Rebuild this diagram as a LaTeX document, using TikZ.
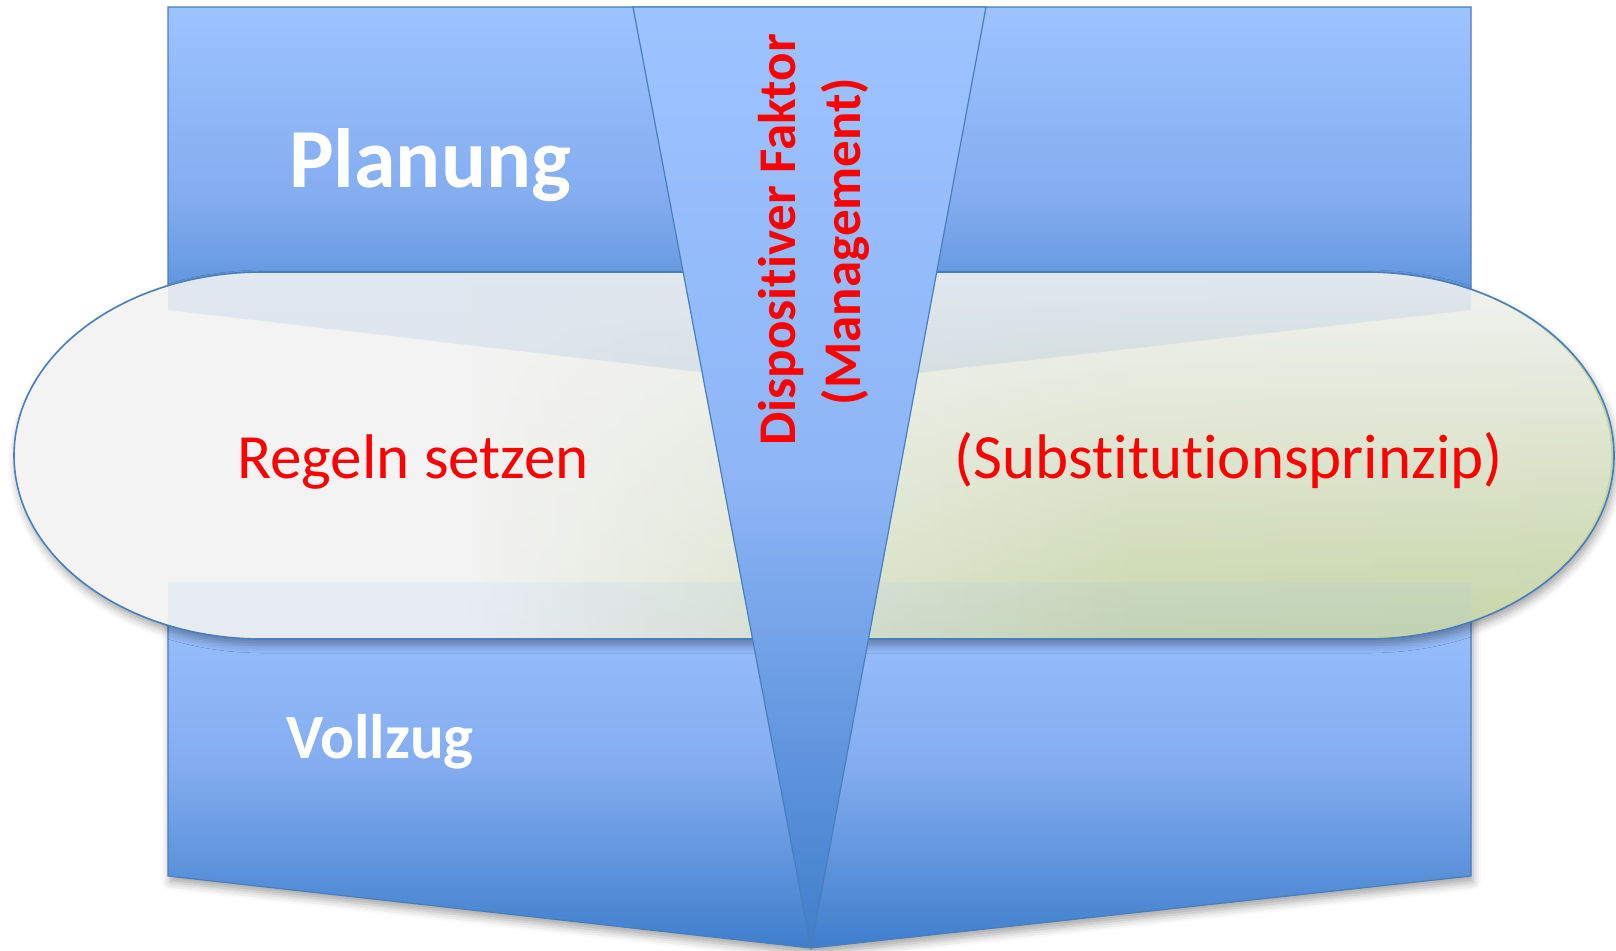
\documentclass[tikz,border=0pt]{standalone}
\usepackage{fontspec}
\setmainfont[Ligatures=NoCommon]{Carlito}
\usetikzlibrary{shadows.blur,fadings}

\definecolor{blueTop}{HTML}{9DC3FF}
\definecolor{blueMid}{HTML}{84ADF0}
\definecolor{blueBot}{HTML}{3F7ECC}
\definecolor{edgeBlue}{HTML}{4A7EBB}
\definecolor{capLight}{HTML}{F3F3F3}
\definecolor{capMid}{HTML}{E1E7D5}
\definecolor{capGreen}{HTML}{C9D7AB}
\definecolor{capDeep}{HTML}{C1D29E}
\definecolor{textRed}{HTML}{FF0000}

\pgfdeclarehorizontalshading{capshade}{100bp}{%
  color(0bp)=(capLight); color(39bp)=(capLight); color(47bp)=(capMid); color(60bp)=(capGreen); color(100bp)=(capDeep)}
\tikzfading[name=capfade, top color=transparent!0, bottom color=transparent!100]

% the rounded band across the middle
\newcommand\bandpath{(262,272) -- (1366,272) arc[start angle=-90, end angle=90, x radius=248, y radius=183.5]
    -- (262,639) arc[start angle=90, end angle=270, x radius=248, y radius=183.5] -- cycle}

\begin{document}
\begin{tikzpicture}[x=0.5pt, y=-0.5pt,
    panel/.style={draw=edgeBlue, line width=0.6pt, top color=blueTop, bottom color=blueBot, middle color=blueMid},
    softshadow/.style={blur shadow={shadow xshift=1pt, shadow yshift=-3pt, shadow blur radius=4pt, shadow opacity=35}},
    bigword/.style={text=white, inner sep=0pt, anchor=base, font=\bfseries\fontsize{#1}{#1}\selectfont},
    redword/.style={text=textRed, inner sep=0pt, anchor=base, font=\fontsize{31.5}{36}\selectfont},
    upword/.style={text=textRed, inner sep=0pt, anchor=base, rotate=90, font=\bfseries\fontsize{26.5}{30}\selectfont}]
  \useasboundingbox (0,0) rectangle (1616,950);

  % Planung and Vollzug
  \path[panel] (168,7) -- (1471,7) -- (1471,310) -- (811,385) -- (168,310) -- cycle;
  \path[panel, softshadow] (168,582) -- (1471,582) -- (1471,876) -- (811,948) -- (168,876) -- cycle;

  % rules band
  \path[shade, shading=capshade, softshadow] \bandpath;
  \path[fill=capLight, path fading=capfade] \bandpath;
  \begin{scope}
    \clip \bandpath;
    \path[top color=blueTop, bottom color=blueBot, middle color=blueMid, fill opacity=0.12]
      (168,7) -- (1471,7) -- (1471,310) -- (811,385) -- (168,310) -- cycle;
    \path[top color=blueTop, bottom color=blueBot, middle color=blueMid, fill opacity=0.12]
      (168,582) -- (1471,582) -- (1471,876) -- (811,948) -- (168,876) -- cycle;
  \end{scope}
  \draw[edgeBlue, line width=0.8pt] \bandpath;

  % funnel
  \path[panel, middle color=blueMid!60!blueTop] (633,7) -- (986,7) -- (811,948) -- cycle;

  \node[bigword=42] (planung) at (430,187) {Planung};
  \node[bigword=31.5] (vollzug) at (380,758) {Vollzug};
  \node[redword] (regeln) at (413,478) {Regeln setzen};
  \node[redword] (subst) at (1229,478) {(Substitutionsprinzip)};
  \node[upword] (faktor) at (795,240) {Dispositiver Faktor};
  \node[upword] (mgmt) at (860,241.5) {(Management)};
\end{tikzpicture}
\end{document}
